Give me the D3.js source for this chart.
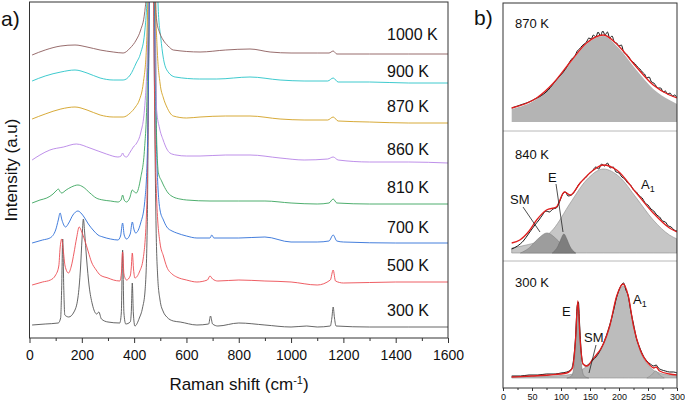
<!DOCTYPE html>
<html>
<head>
<meta charset="utf-8">
<script src="https://cdn.jsdelivr.net/npm/d3@7"></script>
<style>
  body { margin: 0; background: #fff; }
  svg { font-family: "Liberation Sans", Arial, sans-serif; }
</style>
</head>
<body>
<svg width="685" height="402"></svg>
<script>
// ---- panel a data: [Raman shift (cm-1), intensity (a.u., offset traces)] ----
const temps = ["300 K", "500 K", "700 K", "810 K", "860 K", "870 K", "900 K", "1000 K"];
const traceColors = ["#555555", "#ec4c52", "#2f6fd8", "#3aa55e", "#b783e6", "#d3a022", "#29c4c8", "#8c5c5c"];

const s300 = [[10,13],[60,14],[110,15],[119,20],[123,50],[127,99],[131,50],[135,23],[150,21],[170,26],[185,40],[195,70],[201,100],[206,119],[211,105],[218,80],[228,52],[240,34],[257,24],[265,26],[275,19],[300,16],[345,15],[351,25],[356,88],[361,25],[368,14],[385,16],[389,25],[393,55],[397,25],[403,12],[420,20],[432,30],[442,48],[450,110],[456,300],[466,700],[476,300],[484,110],[490,62],[499,38],[512,26],[525,21],[550,17],[576,16],[640,13],[685,14],[692,22],[700,14],[720,12],[800,15],[900,13],[1000,11],[1060,12],[1100,11],[1150,12],[1156,20],[1161,31],[1166,20],[1172,12],[1300,11],[1450,11],[1600,11]];
const s500 = [[10,53],[50,56],[80,58],[100,63],[112,72],[117,90],[123,99],[129,88],[136,72],[149,65],[160,72],[170,85],[180,100],[190,111],[200,106],[211,98],[225,86],[237,76],[255,68],[270,63],[300,60],[321,58],[345,57],[351,64],[356,86],[361,64],[371,58],[385,62],[389,70],[393,85],[398,68],[403,60],[420,66],[435,80],[448,130],[456,300],[466,700],[476,300],[486,140],[499,95],[512,82],[525,71],[545,64],[563,61],[600,58],[640,56],[680,58],[690,62],[700,59],[720,57],[800,58],[900,57],[1000,56],[1100,53],[1150,58],[1161,68],[1170,57],[1200,55],[1400,56],[1600,56]];
const s700 = [[10,95],[50,98],[78,100],[100,108],[110,118],[117,125],[124,118],[138,111],[150,115],[166,123],[185,127],[200,124],[211,120],[225,114],[243,108],[262,103],[281,101],[310,99],[338,98],[348,102],[356,115],[362,103],[371,99],[385,104],[393,116],[400,108],[406,105],[425,115],[440,135],[450,180],[458,330],[468,700],[478,330],[488,170],[499,128],[512,118],[525,111],[545,107],[563,105],[600,102],[640,100],[690,100],[697,103],[705,100],[800,100],[900,101],[1000,96],[1100,96],[1145,97],[1161,103],[1175,97],[1200,96],[1400,95],[1600,95]];
const s810 = [[10,135],[40,138],[66,140],[90,144],[105,148],[110,149],[118,146],[123,145],[140,148],[160,151],[185,153],[205,151],[231,145],[255,140],[281,138],[310,137],[338,136],[350,138],[356,143],[362,138],[371,136],[383,140],[393,148],[401,146],[408,145],[425,160],[440,190],[450,250],[458,400],[468,700],[478,400],[486,200],[493,165],[505,157],[512,153],[530,145],[550,141],[575,139],[601,138],[690,137],[800,137],[900,137],[1000,135],[1100,134],[1145,135],[1161,139],[1175,135],[1300,134],[1600,134]];
const s860 = [[10,178],[40,183],[78,188],[130,191],[179,194],[231,190],[294,184],[338,181],[350,182],[356,185],[362,182],[371,181],[385,186],[397,191],[410,195],[425,205],[440,230],[452,300],[460,450],[468,700],[478,450],[486,228],[497,210],[511,198],[525,189],[537,185],[560,183],[600,182],[652,182],[750,183],[843,183],[958,180],[1050,178],[1140,179],[1161,181],[1180,178],[1300,176],[1450,176],[1600,175]];
const s870 = [[10,219],[60,224],[120,229],[174,231],[220,228],[270,223],[320,221],[358,221],[385,225],[405,231],[420,238],[435,255],[447,290],[456,400],[466,700],[476,400],[488,290],[499,255],[512,240],[525,231],[550,222],[600,220],[652,221],[750,222],[843,222],[958,219],[1050,218],[1140,218],[1161,221],[1180,217],[1300,216],[1450,215],[1600,215]];
const s900 = [[10,257],[60,262],[120,266],[174,268],[220,265],[270,260],[320,258],[358,258],[385,263],[408,275],[425,285],[440,305],[452,360],[462,500],[470,700],[480,480],[492,330],[502,300],[511,281],[525,268],[557,261],[650,259],[716,259],[843,261],[958,258],[1050,257],[1140,257],[1161,260],[1180,256],[1300,256],[1450,255],[1600,255]];
const s1000 = [[10,283],[60,288],[120,292],[174,293],[220,291],[270,288],[320,286],[358,285],[385,290],[408,298],[425,308],[440,325],[450,360],[462,500],[470,700],[478,400],[486,318],[498,305],[511,298],[530,292],[550,288],[652,286],[750,288],[843,289],[920,286],[1000,285],[1100,285],[1145,285],[1161,287],[1175,284],[1300,284],[1450,284],[1600,284]];
const spectra = [s300, s500, s700, s810, s860, s870, s900, s1000];
const labelY = [316, 271, 233, 193, 155, 112, 77, 40];

const xTicksA = [0, 200, 400, 600, 800, 1000, 1200, 1400, 1600];
const xMinorA = [100, 300, 500, 700, 900, 1100, 1300, 1500];

// ---- panel b data ----
const subTemps = ["870 K", "840 K", "300 K"];
// 870 K
const b870Data = [[15,14],[25,16],[35,18],[45,20],[55,23],[62,25],[70,28],[78,32],[85,37],[92,42],[98,46],[104,50],[110,55],[116,61],[120,64],[124,66],[128,71],[132,73],[136,76],[140,78],[144,80],[148,84],[152,83],[156,87],[160,85],[164,90],[168,86],[172,91],[176,87],[180,90],[184,84],[188,86],[192,80],[196,79],[200,76],[204,77],[208,70],[212,68],[216,66],[220,62],[224,60],[228,58],[232,55],[236,53],[240,50],[244,48],[248,44],[252,45],[256,40],[260,39],[264,36],[268,34],[272,34],[276,30],[280,31],[284,28],[288,29],[292,26],[296,27],[300,24]];
const b870Fit = [[15,14],[58,24],[87,39],[116,60],[144,79],[173,87],[201,75],[230,55],[259,37],[287,27],[300,24]];
const b870A1 = [[15,13],[58,23],[87,38],[116,59],[144,78],[173,86],[201,73],[230,52],[259,33],[287,22],[300,18]];
// 840 K
const b840Data = [[15,4],[25,7],[35,12],[45,20],[55,28],[62,33],[68,38],[74,42],[80,41],[86,44],[92,45],[98,52],[104,60],[108,61],[112,57],[118,58],[124,62],[130,68],[136,72],[142,75],[148,79],[154,82],[160,86],[165,84],[170,89],[175,87],[180,90],[185,85],[190,86],[195,81],[200,80],[205,76],[210,74],[215,70],[220,68],[225,63],[230,61],[235,57],[240,55],[245,50],[250,48],[255,44],[260,42],[265,38],[270,36],[275,32],[280,31],[285,27],[290,26],[295,23],[300,22]];
const b840Fit = [[15,10],[29,13],[45,22],[58,33],[75,43],[92,46],[106,61],[116,58],[133,70],[156,83],[173,88],[196,83],[230,60],[259,40],[287,25],[300,21]];
const b840A1 = [[15,5],[40,8],[58,11],[87,24],[116,50],[144,73],[173,84],[201,76],[230,55],[259,33],[287,18],[300,14]];
const b840SM = [[30,0],[45,5],[60,14],[76,20],[92,14],[107,5],[125,0]];
const b840E = [[85,0],[95,7],[100,14],[105,19],[110,14],[115,7],[125,0]];
// 300 K
const b300Data = [[15,2],[30,2],[45,3],[60,3],[75,4],[90,4],[100,5],[110,6],[118,9],[122,20],[125,40],[128,72],[130,76],[132,55],[135,25],[138,14],[142,12],[146,13],[150,15],[155,18],[160,21],[166,26],[172,33],[178,42],[184,53],[190,66],[196,81],[200,88],[204,93],[208,95],[212,88],[216,82],[220,68],[225,54],[230,40],[236,30],[242,22],[248,17],[254,14],[260,12],[264,13],[268,10],[274,8],[280,7],[287,6],[294,6],[300,5]];
const b300Fit = [[15,1],[50,2],[80,3],[110,5],[120,10],[125,38],[129,77],[133,38],[138,14],[145,12],[155,19],[173,34],[184,52],[196,82],[207,94],[216,82],[225,52],[236,29],[253,13],[260,10],[264,11],[270,7],[287,4],[300,3]];
const b300A1 = [[15,1.5],[80,2],[110,3],[130,6],[138,9],[155,17],[173,33],[184,51],[196,81],[207,92],[216,81],[225,51],[236,28],[253,11],[270,5],[287,3],[300,2]];
const b300E = [[110,0],[118,2],[122,10],[125,36],[129,75],[133,36],[136,10],[140,2],[148,0]];
const b300P = [[248,0],[256,3],[263,7],[270,3],[278,0]];

const xTicksB = [0, 50, 100, 150, 200, 250, 300];
const xMinorB = [25, 75, 125, 175, 225, 275];

const svg = d3.select("svg");

// ================= panel a =================
const xA = d3.scaleLinear().domain([0, 1600]).range([29.5, 448]);
const yA = d3.scaleLinear().domain([0, 336]).range([338, 2]);

svg.append("clipPath").attr("id", "clipA")
    .append("rect").attr("x", 29.5).attr("y", 2).attr("width", 448 - 29.5).attr("height", 336);

const lineA = d3.line()
    .x(d => xA(d[0]))
    .y(d => yA(d[1]))
    .curve(d3.curveMonotoneX);

svg.append("g").attr("clip-path", "url(#clipA)")
    .selectAll("path")
    .data(spectra)
    .enter()
    .append("path")
    .attr("d", lineA)
    .style("fill", "none")
    .style("stroke", (d, i) => traceColors[i])
    .style("stroke-width", 0.9);

svg.append("g")
    .attr("transform", "translate(0,338)")
    .call(d3.axisBottom(xA).tickValues(xMinorA).tickSize(3).tickFormat(""))
    .call(g => g.select(".domain").remove())
    .selectAll("line").attr("stroke", "#333");

const axA = svg.append("g")
    .attr("transform", "translate(0,338)")
    .call(d3.axisBottom(xA).tickValues(xTicksA).tickSize(5).tickPadding(7).tickFormat(d3.format("d")));
axA.select(".domain").remove();
axA.selectAll("line").attr("stroke", "#333");
axA.selectAll("text").style("font-size", "14px").style("font-family", "Liberation Sans, Arial, sans-serif").attr("fill", "#111");

svg.append("rect")
    .attr("x", 29.5).attr("y", 2).attr("width", 448 - 29.5).attr("height", 336)
    .style("fill", "none").style("stroke", "#333").style("stroke-width", 1);

svg.selectAll(".tlabel")
    .data(temps)
    .enter()
    .append("text")
    .attr("x", 387)
    .attr("y", (d, i) => labelY[i])
    .style("font-size", "16px")
    .attr("fill", "#111")
    .text(d => d);

const xTitle = svg.append("text")
    .attr("x", 239).attr("y", 390)
    .attr("text-anchor", "middle")
    .style("font-size", "17px")
    .attr("fill", "#111");
xTitle.append("tspan").text("Raman shift (cm");
xTitle.append("tspan").attr("dy", -6).style("font-size", "11px").text("-1");
xTitle.append("tspan").attr("dy", 6).text(")");

svg.append("text")
    .attr("transform", "translate(17,170) rotate(-90)")
    .attr("text-anchor", "middle")
    .style("font-size", "17px")
    .attr("fill", "#111")
    .text("Intensity (a.u)");

svg.append("text").attr("x", 1).attr("y", 26).style("font-size", "21px").attr("fill", "#111").text("a)");
svg.append("text").attr("x", 474).attr("y", 25).style("font-size", "21px").attr("fill", "#111").text("b)");

// ================= panel b =================
const xB = d3.scaleLinear().domain([0, 300]).range([503, 677]);
const bases = [122, 253, 378];
const labelBY = [28, 159, 287];
const yB = bases.map(b => d3.scaleLinear().domain([0, 100]).range([b, b - 100]));

svg.append("clipPath").attr("id", "clipB")
    .append("rect").attr("x", 503).attr("y", 3).attr("width", 174).attr("height", 385);

const gB = svg.append("g").attr("clip-path", "url(#clipB)");

function area(i) {
    return d3.area()
        .x(d => xB(d[0]))
        .y0(yB[i](0))
        .y1(d => yB[i](d[1]))
        .curve(d3.curveMonotoneX);
}
function line(i) {
    return d3.line()
        .x(d => xB(d[0]))
        .y(d => yB[i](d[1]))
        .curve(d3.curveMonotoneX);
}
function fillComp(i, data, color, stroke) {
    gB.append("path").attr("d", area(i)(data))
        .style("fill", color)
        .style("stroke", stroke || "none")
        .style("stroke-width", 0.6);
}
function drawLine(i, data, color, w) {
    gB.append("path").attr("d", line(i)(data))
        .style("fill", "none").style("stroke", color).style("stroke-width", w)
        .style("stroke-linejoin", "round");
}

// 870 K
fillComp(0, b870A1, "#b4b4b4");
drawLine(0, b870Data, "#000", 0.9);
drawLine(0, b870Fit, "#e01e1e", 1.3);

// 840 K
fillComp(1, b840A1, "#c6c6c6", "#8c8c8c");
fillComp(1, b840SM, "#9d9d9d", "#808080");
fillComp(1, b840E, "#7e7e7e", "#6a6a6a");
drawLine(1, b840Data, "#000", 0.9);
drawLine(1, b840Fit, "#e01e1e", 1.3);

// 300 K
fillComp(2, b300A1, "#bcbcbc", "#8c8c8c");
fillComp(2, b300E, "#a3a3a3", "#7a7a7a");
fillComp(2, b300P, "#b0b0b0", "#8c8c8c");
drawLine(2, b300Data, "#000", 0.9);
drawLine(2, b300Fit, "#e01e1e", 1.3);

// separators and frame
[131, 261].forEach(y => {
    svg.append("line").attr("x1", 503).attr("x2", 677).attr("y1", y).attr("y2", y)
        .style("stroke", "#b8b8b8").style("stroke-width", 1);
});
svg.append("rect")
    .attr("x", 503).attr("y", 3).attr("width", 174).attr("height", 385)
    .style("fill", "none").style("stroke", "#333").style("stroke-width", 1);

svg.selectAll(".slabel")
    .data(subTemps)
    .enter()
    .append("text")
    .attr("x", 515)
    .attr("y", (d, i) => labelBY[i])
    .style("font-size", "13px")
    .attr("fill", "#111")
    .text(d => d);

// peak annotations
function peakLabel(x, y, name, sub) {
    const t = svg.append("text").attr("x", x).attr("y", y).style("font-size", "13px").attr("fill", "#111");
    t.append("tspan").text(name);
    if (sub) t.append("tspan").attr("dy", 3).style("font-size", "9px").text(sub);
}
function leader(x1, y1, x2, y2) {
    svg.append("line").attr("x1", x1).attr("y1", y1).attr("x2", x2).attr("y2", y2)
        .style("stroke", "#222").style("stroke-width", 0.8);
}
peakLabel(510, 204, "SM");
peakLabel(548, 182, "E");
peakLabel(641, 189, "A", "1");
leader(523, 207, 540, 232);
leader(556, 184, 563, 232);

peakLabel(562, 316, "E");
peakLabel(584, 342, "SM");
peakLabel(633, 304, "A", "1");
leader(596, 345, 589, 373);

svg.append("g")
    .attr("transform", "translate(0,388)")
    .call(d3.axisBottom(xB).tickValues(xMinorB).tickSize(2).tickFormat(""))
    .call(g => g.select(".domain").remove())
    .selectAll("line").attr("stroke", "#333");

const axB = svg.append("g")
    .attr("transform", "translate(0,388)")
    .call(d3.axisBottom(xB).tickValues(xTicksB).tickSize(3).tickPadding(3));
axB.select(".domain").remove();
axB.selectAll("line").attr("stroke", "#333");
axB.selectAll("text").style("font-size", "9px").style("font-family", "Liberation Sans, Arial, sans-serif").attr("fill", "#111");
</script>
</body>
</html>
